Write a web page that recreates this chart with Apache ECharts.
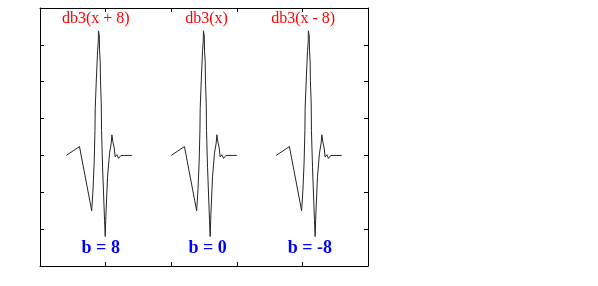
<!DOCTYPE html>
<html>
<head>
<meta charset="utf-8">
<script src="https://cdn.jsdelivr.net/npm/echarts@6/dist/echarts.min.js"></script>
<style>
html,body{margin:0;padding:0;background:#fff;}
#chart{width:598px;height:286px;}
</style>
</head>
<body>
<div id="chart"></div>
<script>
// db3 wavelet psi(x) (support [0,5])
const psiX = [0, 1.01, 1.94, 2.04, 2.13, 2.19, 2.21, 2.29, 2.39, 2.44, 2.46, 2.52, 2.54, 2.59, 2.61, 2.67, 2.69, 2.77, 2.92, 2.97, 3.03, 3.15, 3.30, 3.43, 3.48, 3.56, 3.66, 3.73, 3.86, 3.99, 4.17, 5.0];
const psiY = [0, 0.12, -0.75, -0.47, -0.09, 0.34, 0.64, 1.01, 1.42, 1.54, 1.69, 1.62, 1.43, 1.27, 1.02, 0.70, 0.34, -0.16, -0.88, -1.10, -0.78, -0.29, 0.03, 0.17, 0.28, 0.18, 0.10, -0.02, 0.01, -0.04, 0, 0];
// translations: db3(x + 8), db3(x), db3(x - 8)
const shifts = [-8, 0, 8];
const topLabels = ['db3(x + 8)', 'db3(x)', 'db3(x - 8)'];
const topLabelX = [-5.75, 2.69, 10.06];
const topLabelY = 1.86;
const bottomLabels = ['b = 8', 'b = 0', 'b = -8'];
const bottomLabelX = [-5.37, 2.78, 10.57];
const bottomLabelY = -1.256;

const xMin = -10, xMax = 15, xStep = 5;
const yMin = -1.5, yMax = 2, yStep = 0.5;

const chart = echarts.init(document.getElementById('chart'), null, {renderer: 'canvas'});

function axisCommon(extra) {
  return Object.assign({
    axisLine: {show: true, onZero: false, lineStyle: {color: '#000', width: 1}},
    axisTick: {show: true, inside: true, length: 4, lineStyle: {color: '#000', width: 1}},
    axisLabel: {show: false},
    splitLine: {show: false}
  }, extra);
}

const lineSeries = shifts.map(b => ({
  type: 'line',
  data: psiX.map((x, i) => [x + b, psiY[i]]),
  showSymbol: false,
  symbol: 'none',
  lineStyle: {color: '#262626', width: 1},
  animation: false,
  z: 2
}));

function labelSeries(texts, xs, y, color, size, weight) {
  return {
    type: 'scatter',
    symbolSize: 0,
    itemStyle: {opacity: 1, color: color},
    data: texts.map((t, i) => [xs[i], y, t]),
    label: {
      show: true,
      position: 'inside',
      formatter: p => p.data[2],
      color: color,
      opacity: 1,
      fontFamily: 'Liberation Serif, DejaVu Serif, serif',
      fontSize: size,
      fontWeight: weight,
      align: 'center',
      verticalAlign: 'middle'
    },
    animation: false,
    silent: true,
    z: 5
  };
}

chart.setOption({
  animation: false,
  backgroundColor: '#fff',
  grid: {left: 40, top: 8, width: 328, height: 258, containLabel: false},
  xAxis: [
    axisCommon({type: 'value', position: 'bottom', min: xMin, max: xMax, interval: xStep}),
    axisCommon({type: 'value', position: 'top', min: xMin, max: xMax, interval: xStep})
  ],
  yAxis: [
    axisCommon({type: 'value', position: 'left', min: yMin, max: yMax, interval: yStep}),
    axisCommon({type: 'value', position: 'right', min: yMin, max: yMax, interval: yStep})
  ],
  series: lineSeries.concat([
    labelSeries(topLabels, topLabelX, topLabelY, '#ff0000', 16, 'normal'),
    labelSeries(bottomLabels, bottomLabelX, bottomLabelY, '#0000ff', 18, 'bold')
  ])
});
</script>
</body>
</html>
